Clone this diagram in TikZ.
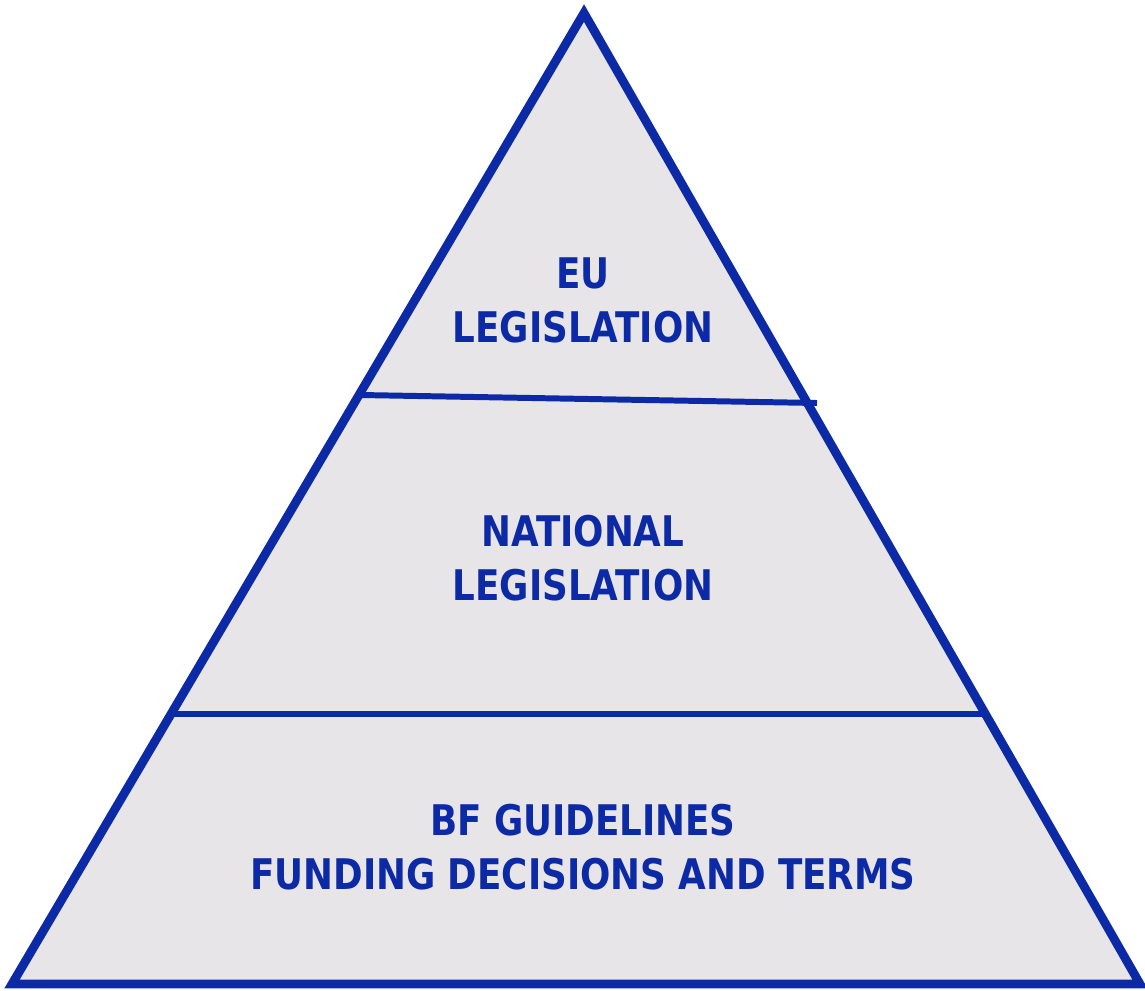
\documentclass[tikz,border=0pt]{standalone}
\usepackage{fontspec}
\usepackage{tikz}
\newfontfamily\levelfont{DejaVu Sans Condensed Bold}[FakeStretch=0.94]
\definecolor{pyrblue}{RGB}{12,42,165}
\definecolor{pyrgrey}{RGB}{231,229,231}
\newcommand{\levelSize}[0]{\fontsize{12pt}{15.4pt}\selectfont}

\begin{document}
\begin{tikzpicture}[x=0.01cm, y=-0.01cm]
  \tikzset{every level/.style={align=center, text=pyrblue, font=\levelfont\levelSize},
           level line/.style={draw=pyrblue, line width=1.7pt}}
  \useasboundingbox (0,0) rectangle (1145,990);
  \coordinate (top) at (584,13);
  \coordinate (left) at (12,984);
  \coordinate (right) at (1140,984);
  \filldraw[fill=pyrgrey, draw=pyrblue, line width=2.5pt] (top) -- (right) -- (left) -- cycle;
  \coordinate (EU-l) at (361,395);
  \coordinate (EU-r) at (817,403);
  \coordinate (NAT-l) at (171,714);
  \coordinate (NAT-r) at (987,714);
  \draw[level line] (EU-l) -- (EU-r);
  \draw[level line] (NAT-l) -- (NAT-r);
  \node[every level] (EU) at (583,300) {EU\\LEGISLATION};
  \node[every level] (NAT) at (583,558) {NATIONAL\\LEGISLATION};
  \node[every level] (BF) at (583,847) {BF GUIDELINES\\FUNDING DECISIONS AND TERMS};
\end{tikzpicture}
\end{document}
